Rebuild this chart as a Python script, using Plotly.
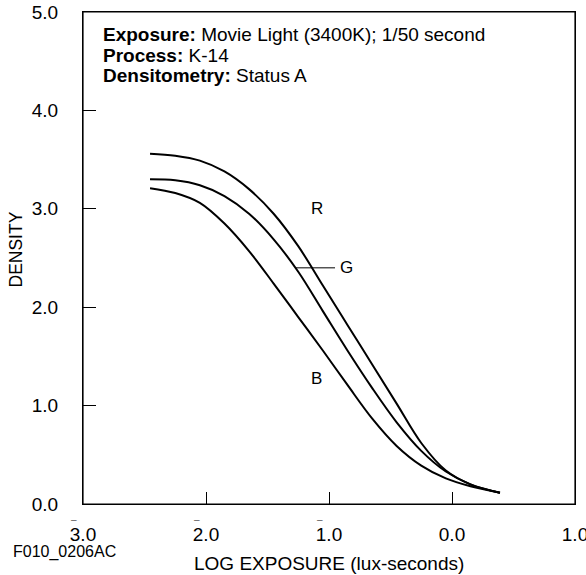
import plotly.graph_objects as go

# Characteristic curves (log exposure vs density)
r_logE = [-2.455, -2.25, -2.05, -1.85, -1.65, -1.45, -1.25, -1.05, -0.85, -0.65, -0.45, -0.25, -0.05, 0.15, 0.39]
r_dens = [3.56, 3.54, 3.49, 3.38, 3.20, 2.95, 2.62, 2.22, 1.82, 1.42, 1.02, 0.62, 0.34, 0.20, 0.115]

g_logE = [-2.455, -2.25, -2.05, -1.85, -1.65, -1.45, -1.25, -1.05, -0.85, -0.65, -0.45, -0.25, -0.05, 0.15, 0.39]
g_dens = [3.30, 3.29, 3.24, 3.13, 2.95, 2.69, 2.36, 1.96, 1.56, 1.18, 0.83, 0.54, 0.33, 0.20, 0.115]

b_logE = [-2.455, -2.25, -2.05, -1.85, -1.65, -1.45, -1.25, -1.05, -0.85, -0.65, -0.45, -0.25, -0.05, 0.15, 0.39]
b_dens = [3.21, 3.16, 3.06, 2.85, 2.57, 2.24, 1.90, 1.56, 1.21, 0.87, 0.59, 0.39, 0.26, 0.18, 0.115]

x_tickvals = [-3, -2, -1, 0, 1]
x_ticktext = ["3.0", "2.0", "1.0", "0.0", "1.0"]
x_negative = [-3, -2, -1]          # characteristics that carry a bar
y_tickvals = [0, 1, 2, 3, 4, 5]
y_ticktext = ["0.0", "1.0", "2.0", "3.0", "4.0", "5.0"]

info_lines = [
    "<b>Exposure:</b> Movie Light (3400K); 1/50 second",
    "<b>Process:</b> K-14",
    "<b>Densitometry:</b> Status A",
]

FONT = "Liberation Sans, Arial, sans-serif"
W, H = 586, 575
L, T = 83, 12            # plot left / top in pixels
RGT, BOT = 575, 504      # plot right / bottom in pixels
pw, ph = RGT - L, BOT - T


def py(p):
    """pixel row -> paper fraction"""
    return 1 - (p - T) / ph


def px(p):
    """pixel column -> paper fraction"""
    return (p - L) / pw


fig = go.Figure()
for xs, ys in [(r_logE, r_dens), (g_logE, g_dens), (b_logE, b_dens)]:
    fig.add_trace(go.Scatter(x=xs, y=ys, mode="lines",
                             line=dict(color="black", width=2, shape="spline", smoothing=1.0),
                             showlegend=False, hoverinfo="skip"))

# G leader line
fig.add_trace(go.Scatter(x=[-1.276, -0.951], y=[2.40, 2.40], mode="lines",
                         line=dict(color="black", width=1), showlegend=False, hoverinfo="skip"))

anns = []
for t, yy in zip(info_lines, [4.77, 4.56, 4.355]):
    anns.append(dict(x=-2.856, y=yy, xref="x", yref="y", text=t,
                     showarrow=False, xanchor="left", yanchor="middle",
                     font=dict(family=FONT, size=19, color="black")))
for lab, lx, ly in [("R", -1.10, 3.00), ("G", -0.856, 2.40), ("B", -1.10, 1.28)]:
    anns.append(dict(x=lx, y=ly, xref="x", yref="y", text=lab, showarrow=False,
                     xanchor="center", yanchor="middle",
                     font=dict(family=FONT, size=17, color="black")))
# bars over negative characteristics
for v in x_negative:
    anns.append(dict(x=v, y=py(525), xref="x", yref="paper", text="<b>\u00af</b>",
                     showarrow=False, xanchor="center", yanchor="middle", xshift=-9.5,
                     font=dict(family=FONT, size=10, color="black")))
anns.append(dict(x=0.5, y=py(563.4), xref="paper", yref="paper", text="LOG EXPOSURE (lux-seconds)",
                 showarrow=False, xanchor="center", yanchor="middle",
                 font=dict(family=FONT, size=19, color="black")))
anns.append(dict(x=px(64.5), y=py(552), xref="paper", yref="paper", text="F010_0206AC",
                 showarrow=False, xanchor="center", yanchor="middle",
                 font=dict(family=FONT, size=16, color="black")))
anns.append(dict(x=px(15.5), y=py(250), xref="paper", yref="paper", text="DENSITY", textangle=-90,
                 showarrow=False, xanchor="center", yanchor="middle",
                 font=dict(family=FONT, size=17.5, color="black")))

fig.update_layout(
    width=W, height=H,
    margin=dict(l=L, r=W - RGT, t=T, b=H - BOT),
    paper_bgcolor="white", plot_bgcolor="white",
    font=dict(family=FONT, size=19, color="black"),
    annotations=anns,
    shapes=[dict(type="rect", xref="paper", yref="paper", x0=0, x1=1, y0=0, y1=1,
                 line=dict(color="black", width=1.2), fillcolor="rgba(0,0,0,0)", layer="above")],
    xaxis=dict(range=[-3, 1], tickvals=x_tickvals, ticktext=x_ticktext,
               ticks="inside", ticklen=12, tickcolor="black", tickwidth=1,
               showline=True, linecolor="black", linewidth=1, mirror=True,
               showgrid=False, zeroline=False, ticklabelstandoff=13, automargin=False,
               ticklabeloverflow="allow",
               tickfont=dict(family=FONT, size=19, color="black")),
    yaxis=dict(range=[0, 5], tickvals=y_tickvals, ticktext=y_ticktext,
               ticks="inside", ticklen=13, tickcolor="black", tickwidth=1,
               showline=True, linecolor="black", linewidth=1, mirror=True,
               showgrid=False, zeroline=False, ticklabelstandoff=20, automargin=False,
               ticklabeloverflow="allow",
               tickfont=dict(family=FONT, size=19, color="black")),
)

# the page's default body margin would offset the 586x575 figure inside the window
fig.write_html("out.html", config={"displayModeBar": False},
               post_script="document.body.style.margin='0px';")
